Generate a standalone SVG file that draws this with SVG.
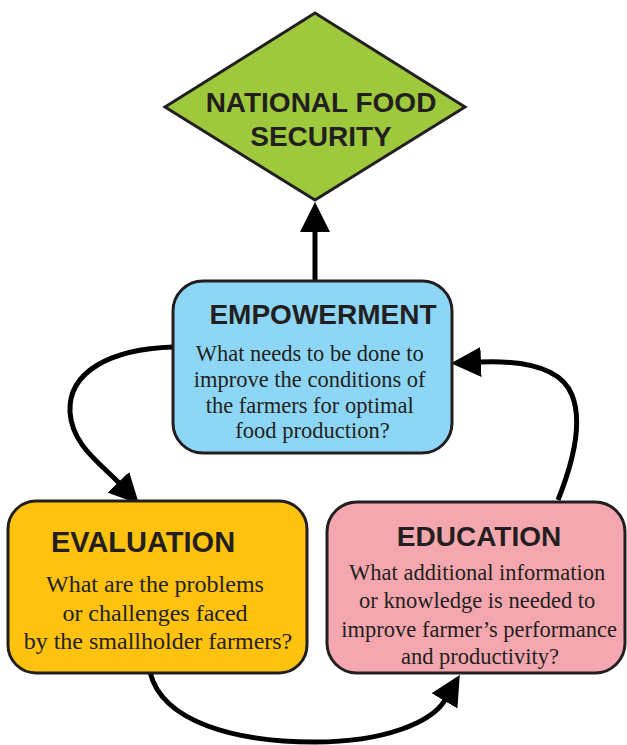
<svg xmlns="http://www.w3.org/2000/svg" width="627" height="745" viewBox="0 0 627 745">
<style>
.title{font-family:"Liberation Sans",Arial,sans-serif;font-weight:bold;fill:#231F20;text-anchor:middle}
.body{font-family:"Liberation Serif","Times New Roman",serif;fill:#231F20;text-anchor:middle}
.box{stroke:#231F20;stroke-width:3}
.conn{fill:none;stroke:#000;stroke-width:5}
</style>
<defs>
<marker id="ah" markerUnits="userSpaceOnUse" viewBox="0 0 30 30" markerWidth="30" markerHeight="30" refX="1" refY="15" orient="auto">
<polygon points="0,0 30,15 0,30" fill="#000"/>
</marker>
</defs>
<rect width="627" height="745" fill="#fff"/>
<g id="connectors">
<path class="conn" d="M315,281 L315,231" marker-end="url(#ah)"/>
<path class="conn" d="M173,347 C110,349 68,372 70,412 C72,445 100,463 119,483" marker-end="url(#ah)"/>
<path class="conn" d="M150,672 C162,722 235,742 315,742 C385,742 432,722 445,700" marker-end="url(#ah)"/>
<path class="conn" d="M558,500 C576,455 582,420 572,395 C562,370 530,360 480,362" marker-end="url(#ah)"/>
</g>
<g id="national-food-security">
<polygon class="box" points="315,13 465,107 315,200 165,107" fill="#9FC93C"/>
<text class="title" x="321" y="112" font-size="28">NATIONAL FOOD</text>
<text class="title" x="321" y="146" font-size="28">SECURITY</text>
</g>
<g id="empowerment">
<rect class="box" x="173" y="281" width="279" height="172" rx="30" fill="#8DD6F5"/>
<text class="title" x="323" y="324" font-size="28">EMPOWERMENT</text>
<text class="body" font-size="22.5">
<tspan x="312.5" y="361">What needs to be done to</tspan>
<tspan x="312.5" y="387">improve the conditions of</tspan>
<tspan x="312.5" y="413">the farmers for optimal</tspan>
<tspan x="312.5" y="438">food production?</tspan>
</text>
</g>
<g id="evaluation">
<rect class="box" x="8" y="501" width="299" height="172" rx="28" fill="#FFC20E"/>
<text class="title" x="143" y="552" font-size="29">EVALUATION</text>
<text class="body" font-size="24">
<tspan x="158" y="592">What are the problems</tspan>
<tspan x="158" y="621">or challenges faced</tspan>
<tspan x="158" y="649">by the smallholder farmers?</tspan>
</text>
</g>
<g id="education">
<rect class="box" x="327" y="502" width="298" height="171" rx="30" fill="#F4A7AE"/>
<text class="title" x="479" y="546" font-size="28">EDUCATION</text>
<text class="body" font-size="22.5">
<tspan x="480" y="580">What additional information</tspan>
<tspan x="480" y="608">or knowledge is needed to</tspan>
<tspan x="482" y="637">improve farmer’s performance</tspan>
<tspan x="480" y="664">and productivity?</tspan>
</text>
</g>
</svg>
